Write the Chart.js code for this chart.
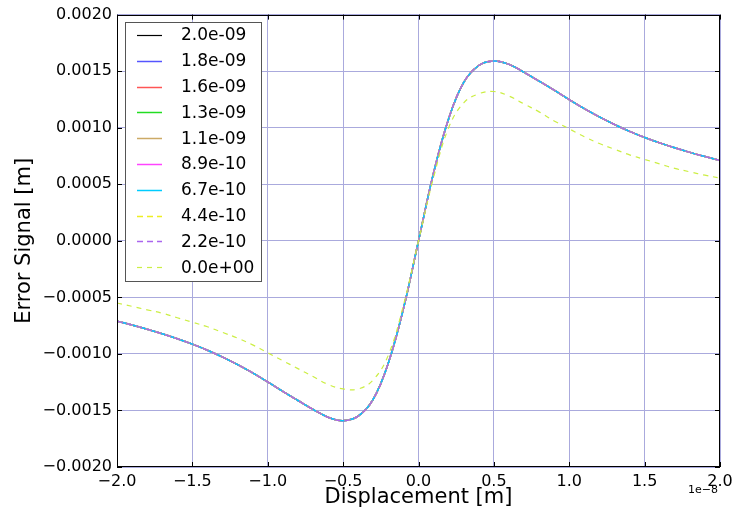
<!DOCTYPE html>
<html><head><meta charset="utf-8">
<script src="https://cdn.jsdelivr.net/npm/chart.js@4.4.1/dist/chart.umd.min.js"></script>
<style>html,body{margin:0;padding:0;background:#fff;}canvas{display:block;}</style>
</head><body>
<canvas id="c" width="739" height="515"></canvas>
<script>
// Displacement in units of 1e-8 m
const displacement = [-2.0,-1.9,-1.8,-1.7,-1.6,-1.5,-1.4,-1.3,-1.2,-1.1,-1.0,-0.9,-0.8,-0.7,-0.6,-0.5,-0.4,-0.3,-0.2,-0.1,0,
  0.1,0.2,0.3,0.4,0.5,0.6,0.7,0.8,0.9,1.0,1.1,1.2,1.3,1.4,1.5,1.6,1.7,1.8,1.9,2.0];
// Nine overlapping traces (2.0e-09 ... 2.2e-10)
const errorOverlap = [-0.000710,-0.000745,-0.000782,-0.000822,-0.000866,-0.000914,-0.000968,-0.001028,-0.001095,-0.001168,-0.001248,-0.001332,-0.001412,-0.001490,-0.001560,-0.001590,-0.001550,-0.001400,-0.001080,-0.000600,0,
  0.000600,0.001080,0.001400,0.001550,0.001590,0.001560,0.001490,0.001412,0.001332,0.001248,0.001168,0.001095,0.001028,0.000968,0.000914,0.000866,0.000822,0.000782,0.000745,0.000710];
// 0.0e+00 trace
const errorZero = [-0.000550,-0.000580,-0.000610,-0.000640,-0.000680,-0.000720,-0.000760,-0.000810,-0.000860,-0.000920,-0.000990,-0.001060,-0.001130,-0.001200,-0.001270,-0.001310,-0.001310,-0.001230,-0.001010,-0.000570,0,
  0.000560,0.001000,0.001220,0.001300,0.001320,0.001280,0.001210,0.001140,0.001060,0.000990,0.000920,0.000860,0.000810,0.000760,0.000720,0.000680,0.000640,0.000610,0.000580,0.000555];
const seriesLabels = ["2.0e-09","1.8e-09","1.6e-09","1.3e-09","1.1e-09","8.9e-10","6.7e-10","4.4e-10","2.2e-10","0.0e+00"];
const xTicks = [-2.0,-1.5,-1.0,-0.5,0.0,0.5,1.0,1.5,2.0];
const yTicks = [-0.0020,-0.0015,-0.0010,-0.0005,0.0,0.0005,0.0010,0.0015,0.0020];

const colors = ['#000000','#5555ff','#ff5555','#22dd22','#ccaa66','#ff44ff','#00ccff','#eeee22','#aa66ee','#ccee44'];
const dashes = [[],[],[],[],[],[],[],[6,4],[6,4],[5,5]];
const widths = [1.2,1.5,1.5,1.5,1.5,1.5,1.5,1.5,1.5,1.2];

const FONT = '"DejaVu Sans", sans-serif';
const minus = s => s.replace(/-/g,'\u2212');

const datasets = seriesLabels.map((lab,i) => {
  const ys = (i === seriesLabels.length-1) ? errorZero : errorOverlap;
  return {
    label: lab,
    data: displacement.map((x,k)=>({x:x,y:ys[k]})),
    borderColor: colors[i],
    borderDash: dashes[i],
    borderWidth: widths[i],
    pointRadius: 0,
    fill: false,
    tension: 0.4,
    order: seriesLabels.length - i
  };
});

const decor = {
  id:'decor',
  afterDraw(chart){
    const ctx = chart.ctx, a = chart.chartArea;
    const xs = chart.scales.x, ys = chart.scales.y;
    ctx.save();
    ctx.strokeStyle = '#000'; ctx.lineWidth = 1;
    ctx.strokeRect(Math.round(a.left)+0.5, Math.round(a.top)+0.5, Math.round(a.right-a.left)-1, Math.round(a.bottom-a.top)-1);
    ctx.beginPath();
    xTicks.forEach(v=>{
      const p = Math.round(xs.getPixelForValue(v))+0.5;
      ctx.moveTo(p,a.bottom); ctx.lineTo(p,a.bottom-5);
      ctx.moveTo(p,a.top); ctx.lineTo(p,a.top+5);
    });
    yTicks.forEach(v=>{
      const p = Math.round(ys.getPixelForValue(v))+0.5;
      ctx.moveTo(a.left,p); ctx.lineTo(a.left+5,p);
      ctx.moveTo(a.right,p); ctx.lineTo(a.right-5,p);
    });
    ctx.stroke();
    ctx.fillStyle = '#000';
    ctx.font = '21px ' + FONT;
    ctx.textAlign = 'center'; ctx.textBaseline = 'middle';
    ctx.fillText('Displacement [m]', (a.left+a.right)/2, 498);
    ctx.save();
    ctx.translate(25,(a.top+a.bottom)/2);
    ctx.rotate(-Math.PI/2);
    ctx.fillText('Error Signal [m]',0,0);
    ctx.restore();
    ctx.font = '11px ' + FONT;
    ctx.textAlign = 'right';
    ctx.fillText('1e\u22128', a.right-2, 490);
    // legend
    const lx = 125.5, ly = 22.5, lw = 136, lh = 259;
    ctx.fillStyle = '#fff'; ctx.fillRect(lx,ly,lw,lh);
    ctx.strokeStyle = '#555'; ctx.lineWidth = 1; ctx.strokeRect(lx,ly,lw,lh);
    ctx.font = '17px ' + FONT; ctx.textAlign = 'left'; ctx.textBaseline = 'middle';
    seriesLabels.forEach((lab,i)=>{
      const y = 35 + i*25.8;
      ctx.beginPath();
      ctx.strokeStyle = colors[i]; ctx.lineWidth = widths[i];
      ctx.setLineDash(dashes[i]);
      ctx.moveTo(137, Math.round(y)+0.5); ctx.lineTo(162, Math.round(y)+0.5);
      ctx.stroke();
      ctx.setLineDash([]);
      ctx.fillStyle = '#000';
      ctx.fillText(lab, 181, y+1);
    });
    ctx.restore();
  }
};

new Chart(document.getElementById('c'), {
  type:'line',
  data:{datasets},
  options:{
    responsive:false, animation:false, devicePixelRatio:1,
    layout:{padding:{top:13,right:19,left:0,bottom:0}},
    plugins:{legend:{display:false}, tooltip:{enabled:false}},
    scales:{
      x:{type:'linear', min:-2, max:2,
        afterBuildTicks(s){ s.ticks = xTicks.map(v=>({value:v})); },
        afterFit(s){ s.height = 48; },
        grid:{color:'#aaaadd', lineWidth:1, drawTicks:false},
        border:{display:false},
        ticks:{padding:5, color:'#000', font:{family:FONT,size:16}, maxRotation:0,
          callback:v=>minus(Number(v).toFixed(1))}
      },
      y:{type:'linear', min:-0.002, max:0.002,
        afterBuildTicks(s){ s.ticks = yTicks.map(v=>({value:v})); },
        afterFit(s){ s.width = 117; },
        grid:{color:'#aaaadd', lineWidth:1, drawTicks:false},
        border:{display:false},
        ticks:{padding:5, color:'#000', font:{family:FONT,size:16},
          callback:v=>minus(Number(v).toFixed(4))}
      }
    }
  },
  plugins:[decor]
});
</script>
</body></html>
